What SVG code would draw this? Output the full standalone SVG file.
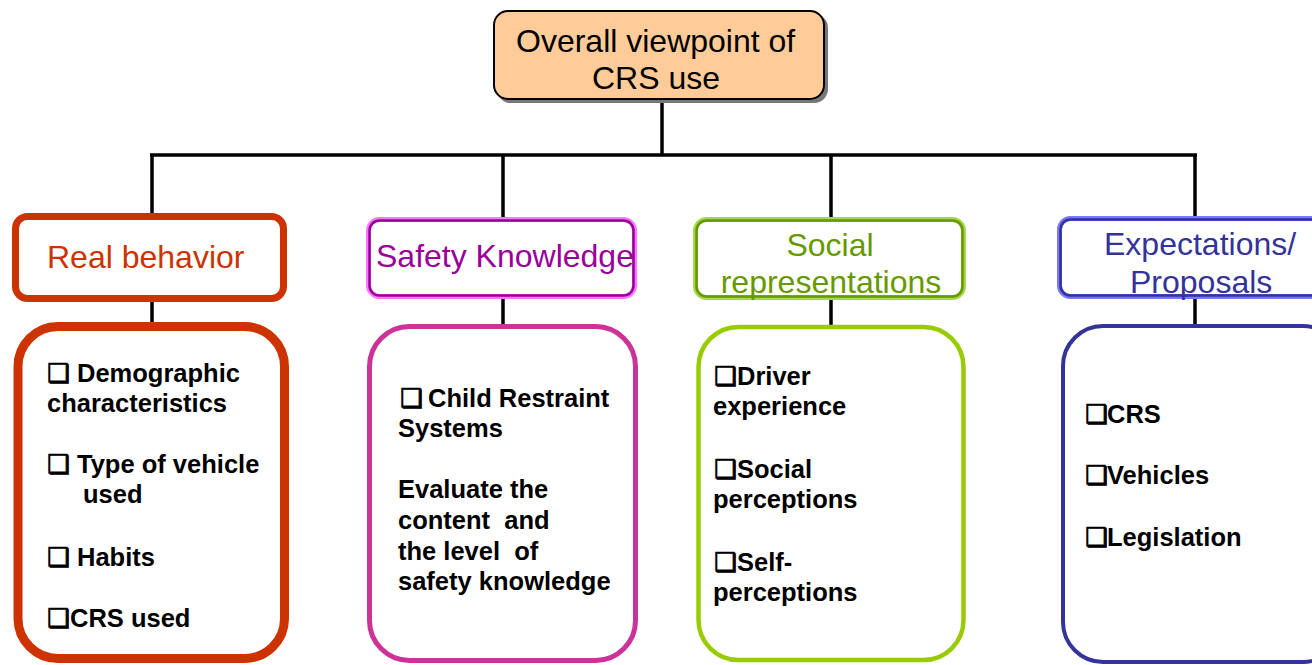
<svg xmlns="http://www.w3.org/2000/svg" width="1312" height="665" viewBox="0 0 1312 665">
<style>
  .hdr { font-family: "Liberation Sans", Arial, sans-serif; font-size: 32px; }
  .body { font-family: "Liberation Sans", Arial, "DejaVu Sans", sans-serif; font-size: 25.5px; font-weight: bold; fill: #000; }
  .box { font-family: "DejaVu Sans", sans-serif; font-weight: normal; stroke: #000; stroke-width: 0.9; }
  .conn { stroke: #000; stroke-width: 3.5; fill: none; }
</style>
<rect width="1312" height="665" fill="#fff"/>

<g id="connectors">
  <line class="conn" x1="662" y1="100" x2="662" y2="155"/>
  <line class="conn" x1="150" y1="155" x2="1197" y2="155"/>
  <line class="conn" x1="152" y1="155" x2="152" y2="215"/>
  <line class="conn" x1="503" y1="155" x2="503" y2="218"/>
  <line class="conn" x1="831" y1="155" x2="831" y2="218"/>
  <line class="conn" x1="1195" y1="155" x2="1195" y2="217"/>
  <line class="conn" x1="152" y1="300" x2="152" y2="324"/>
  <line class="conn" x1="503" y1="298" x2="503" y2="326"/>
  <line class="conn" x1="831" y1="299" x2="831" y2="327"/>
  <line class="conn" x1="1195" y1="298" x2="1195" y2="326"/>
</g>

<g id="root">
  <rect x="497" y="14" width="331" height="89" rx="14" fill="#777"/>
  <rect x="494" y="11" width="330" height="88" rx="14" fill="#FFCC99" stroke="#000" stroke-width="2"/>
  <text class="hdr" fill="#000"><tspan x="516" y="52">Overall viewpoint of</tspan><tspan x="592" y="89">CRS use</tspan></text>
</g>

<g id="real-behavior">
  <rect x="15.5" y="216.5" width="268" height="82" rx="12" fill="#fff" stroke="#CC3300" stroke-width="7"/>
  <text class="hdr" fill="#CC3300" x="47" y="268">Real behavior</text>
</g>
<g id="real-behavior-items">
  <rect x="18" y="326.5" width="266.5" height="332" rx="40" fill="#fff" stroke="#CC3300" stroke-width="9"/>
  <text class="body"><tspan x="47" y="382" class="box">❑</tspan><tspan> </tspan><tspan x="77" y="382">Demographic</tspan><tspan x="47" y="412">characteristics</tspan></text>
  <text class="body"><tspan x="47" y="473" class="box">❑</tspan><tspan> </tspan><tspan x="77" y="473">Type of vehicle</tspan><tspan x="83" y="503">used</tspan></text>
  <text class="body"><tspan x="47" y="566" class="box">❑</tspan><tspan> </tspan><tspan x="77" y="566">Habits</tspan></text>
  <text class="body"><tspan x="47" y="627" class="box">❑</tspan><tspan x="70" y="627">CRS used</tspan></text>
</g>

<g id="safety-knowledge">
  <rect x="368.5" y="219.5" width="266" height="77" rx="11" fill="#fff" stroke="#FF77FF" stroke-width="5"/>
  <rect x="369.5" y="220.5" width="264" height="75" rx="10" fill="none" stroke="#990099" stroke-width="2.5"/>
  <text class="hdr" fill="#990099" x="376" y="267">Safety Knowledge</text>
</g>
<g id="safety-knowledge-items">
  <rect x="369.5" y="326.5" width="266" height="334" rx="40" fill="#fff" stroke="#CC3399" stroke-width="5"/>
  <text class="body"><tspan x="400" y="407" class="box">❑</tspan><tspan> </tspan><tspan x="428" y="407">Child Restraint</tspan><tspan x="398" y="437">Systems</tspan></text>
  <text class="body" xml:space="preserve"><tspan x="398" y="498">Evaluate the</tspan><tspan x="398" y="529">content  and</tspan><tspan x="398" y="560">the level  of</tspan><tspan x="398" y="590">safety knowledge</tspan></text>
</g>

<g id="social-representations">
  <rect x="695.5" y="219.5" width="268" height="78" rx="11" fill="#fff" stroke="#A6D94A" stroke-width="5"/>
  <rect x="696.5" y="220.5" width="266" height="76" rx="10" fill="none" stroke="#669900" stroke-width="2.5"/>
  <text class="hdr" fill="#669900" text-anchor="middle"><tspan x="830" y="256">Social</tspan><tspan x="831" y="293">representations</tspan></text>
</g>
<g id="social-representations-items">
  <rect x="698.5" y="327" width="265" height="333" rx="40" fill="#fff" stroke="#99CC00" stroke-width="4.5"/>
  <text class="body"><tspan x="714" y="385" class="box">❑</tspan><tspan x="737" y="385">Driver</tspan><tspan x="713" y="415">experience</tspan></text>
  <text class="body"><tspan x="714" y="478" class="box">❑</tspan><tspan x="737" y="478">Social</tspan><tspan x="713" y="508">perceptions</tspan></text>
  <text class="body"><tspan x="714" y="571" class="box">❑</tspan><tspan x="737" y="571">Self-</tspan><tspan x="713" y="601">perceptions</tspan></text>
</g>

<g id="expectations-proposals">
  <rect x="1059.5" y="218.5" width="290" height="78" rx="11" fill="#fff" stroke="#7777FF" stroke-width="5"/>
  <rect x="1060.5" y="219.5" width="288" height="76" rx="10" fill="none" stroke="#333399" stroke-width="2.5"/>
  <text class="hdr" fill="#333399"><tspan x="1104" y="255">Expectations/</tspan><tspan x="1130" y="293">Proposals</tspan></text>
</g>
<g id="expectations-proposals-items">
  <rect x="1063" y="326" width="280" height="336" rx="40" fill="#fff" stroke="#333399" stroke-width="4"/>
  <text class="body"><tspan x="1085" y="423" class="box">❑</tspan><tspan x="1107" y="423">CRS</tspan></text>
  <text class="body"><tspan x="1085" y="484" class="box">❑</tspan><tspan x="1107" y="484">Vehicles</tspan></text>
  <text class="body"><tspan x="1085" y="546" class="box">❑</tspan><tspan x="1107" y="546">Legislation</tspan></text>
</g>
</svg>
